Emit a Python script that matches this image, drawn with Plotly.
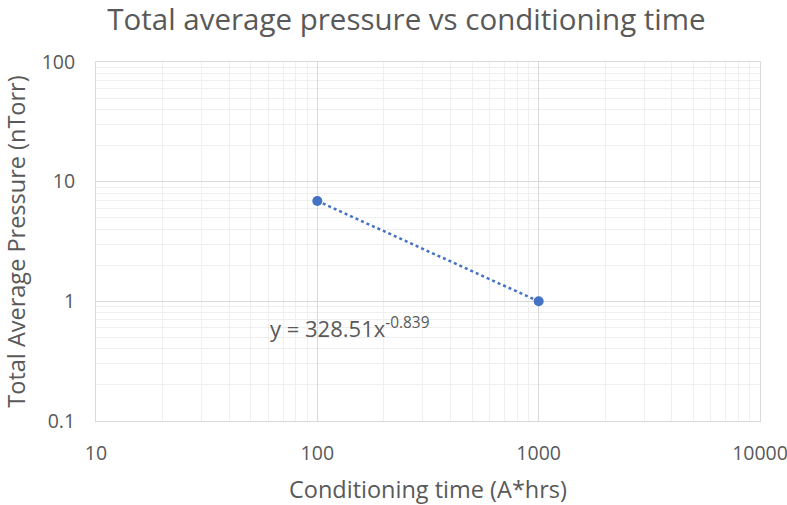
import plotly.graph_objects as go

# Data
conditioning_time = [100, 1000]
avg_pressure = [6.9, 1.0]
fit_coef = 328.51
fit_exp = -0.839
x_tick_vals = [10, 100, 1000, 10000]
x_tick_text = ["10", "100", "1000", "10000"]
y_tick_vals = [0.1, 1, 10, 100]
y_tick_text = ["0.1", "1", "10", "100"]

trend_y = [fit_coef * x ** fit_exp for x in conditioning_time]

FONT = "Open Sans"
GREY = "#595959"
BLUE = "#4472C4"

fig = go.Figure()
fig.add_trace(go.Scatter(
    x=conditioning_time, y=trend_y, mode="lines",
    line=dict(color=BLUE, width=2.5, dash="dot"),
    showlegend=False, hoverinfo="skip"))
fig.add_trace(go.Scatter(
    x=conditioning_time, y=avg_pressure, mode="markers",
    marker=dict(color=BLUE, size=10),
    showlegend=False))

fig.add_annotation(
    x=2.145, y=-0.215, xref="x", yref="y",
    text="y = 328.51x<sup>-0.839</sup>", showarrow=False,
    font=dict(family=FONT, size=22, color=GREY))

axis_common = dict(
    type="log", showline=True, mirror=True, linecolor="#d9d9d9", linewidth=1,
    showgrid=True, gridcolor="#d9d9d9", gridwidth=1, zeroline=False,
    ticks="outside", tickcolor="rgba(0,0,0,0)", automargin=False,
    ticklabeloverflow="allow",
    tickfont=dict(family=FONT, size=19.5, color=GREY),
    minor=dict(showgrid=True, gridcolor="#efefef", gridwidth=1, dtick="D1", ticks=""),
)

fig.update_layout(
    width=787, height=505,
    margin=dict(l=96, r=27, t=62, b=84, autoexpand=False),
    paper_bgcolor="white", plot_bgcolor="white",
    title=dict(text="Total average pressure vs conditioning time",
               x=0.5165, xanchor="center", y=0.9604, yanchor="middle",
               font=dict(family=FONT, size=29.5, color=GREY)),
    xaxis=dict(axis_common, range=[1, 4], tickvals=x_tick_vals, ticktext=x_tick_text,
               ticklen=15,
               title=dict(text="Conditioning time (A*hrs)", standoff=17,
                          font=dict(family=FONT, size=23.5, color=GREY))),
    yaxis=dict(axis_common, range=[-1, 2], tickvals=y_tick_vals, ticktext=y_tick_text,
               ticklen=16,
               title=dict(text="Total Average Pressure (nTorr)", standoff=20,
                          font=dict(family=FONT, size=23.5, color=GREY))),
)

fig.write_html("out.html", config={"displayModeBar": False},
               post_script="document.body.style.margin='0';")
